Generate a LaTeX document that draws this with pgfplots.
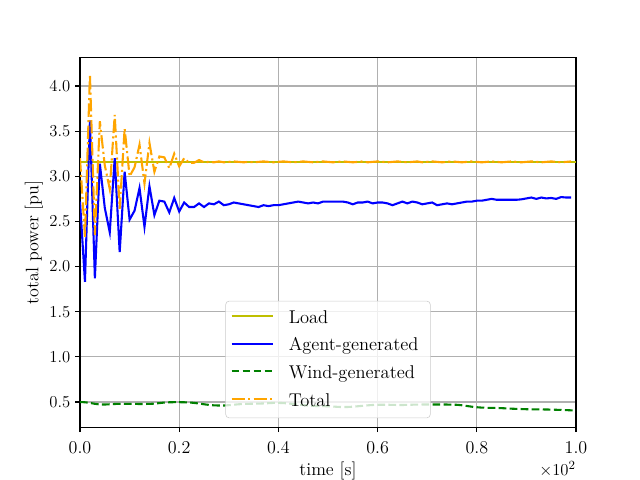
\documentclass[border=0pt]{standalone}
\usepackage{pgfplots}
\pgfplotsset{compat=1.18}
\usepackage{pgfplotstable}

\definecolor{mplY}{rgb}{0.75,0.75,0}
\definecolor{mplG}{rgb}{0,0.5,0}
\definecolor{mplOrange}{HTML}{FFA500}
\definecolor{gridgray}{HTML}{B0B0B0}
\definecolor{legedge}{rgb}{0.8,0.8,0.8}

\pgfplotstableread{
t v
0 2.72
1 1.83
2 3.62
3 1.87
4 3.14
5 2.65
6 2.38
7 3.20
8 2.16
9 3.05
10 2.52
11 2.62
12 2.87
13 2.44
14 2.89
15 2.57
16 2.73
17 2.72
18 2.60
19 2.76
20 2.61
21 2.71
22 2.66
23 2.66
24 2.70
25 2.66
26 2.70
27 2.69
28 2.72
29 2.68
30 2.69
31 2.71
32 2.70
33 2.69
34 2.68
35 2.67
36 2.66
37 2.68
38 2.67
39 2.68
40 2.68
41 2.69
42 2.70
43 2.71
44 2.72
45 2.71
46 2.70
47 2.71
48 2.70
49 2.72
50 2.72
51 2.72
52 2.72
53 2.72
54 2.71
55 2.69
56 2.71
57 2.71
58 2.72
59 2.70
60 2.71
61 2.71
62 2.70
63 2.68
64 2.70
65 2.72
66 2.70
67 2.72
68 2.71
69 2.69
70 2.70
71 2.71
72 2.68
73 2.69
74 2.70
75 2.69
76 2.70
77 2.71
78 2.72
79 2.72
80 2.73
81 2.73
82 2.74
83 2.75
84 2.74
85 2.74
86 2.74
87 2.74
88 2.74
89 2.745
90 2.755
91 2.765
92 2.75
93 2.765
94 2.755
95 2.76
96 2.75
97 2.77
98 2.765
99 2.765
}\agent

\pgfplotstableread{
t v
0 0.500
1 0.497
2 0.490
3 0.480
4 0.473
5 0.472
6 0.475
7 0.478
8 0.480
9 0.480
10 0.480
11 0.479
12 0.478
13 0.478
14 0.479
15 0.482
16 0.488
17 0.494
18 0.497
19 0.498
20 0.498
21 0.497
22 0.495
23 0.490
24 0.483
25 0.475
26 0.468
27 0.463
28 0.461
29 0.461
30 0.465
31 0.470
32 0.475
33 0.478
34 0.480
35 0.481
36 0.482
37 0.484
38 0.487
39 0.490
40 0.490
41 0.488
42 0.484
43 0.478
44 0.472
45 0.466
46 0.461
47 0.457
48 0.455
49 0.454
50 0.453
51 0.450
52 0.446
53 0.444
54 0.445
55 0.448
56 0.453
57 0.458
58 0.463
59 0.467
60 0.469
61 0.470
62 0.470
63 0.468
64 0.467
65 0.467
66 0.468
67 0.470
68 0.471
69 0.472
70 0.472
71 0.472
72 0.472
73 0.472
74 0.472
75 0.471
76 0.469
77 0.464
78 0.456
79 0.448
80 0.442
81 0.438
82 0.436
83 0.435
84 0.434
85 0.432
86 0.429
87 0.426
88 0.424
89 0.422
90 0.420
91 0.419
92 0.418
93 0.418
94 0.417
95 0.416
96 0.414
97 0.412
98 0.410
99 0.408
100 0.407
}\wind

\pgfplotstableread{
t v
0 3.20
1 2.33
2 4.13
3 2.35
4 3.61
5 3.12
6 2.86
7 3.68
8 2.64
9 3.53
10 3.00
11 3.10
12 3.35
13 2.92
14 3.37
15 3.05
16 3.22
17 3.21
18 3.09
19 3.25
20 3.11
21 3.20
22 3.15
23 3.15
24 3.18
25 3.155
26 3.16
27 3.155
28 3.165
29 3.155
30 3.16
31 3.165
32 3.16
33 3.155
34 3.16
35 3.155
36 3.16
37 3.165
38 3.16
39 3.155
40 3.16
41 3.165
42 3.16
43 3.155
44 3.16
45 3.165
46 3.16
47 3.155
48 3.16
49 3.165
50 3.16
51 3.155
52 3.16
53 3.165
54 3.16
55 3.155
56 3.16
57 3.165
58 3.155
59 3.16
60 3.165
61 3.16
62 3.155
63 3.16
64 3.165
65 3.16
66 3.155
67 3.16
68 3.165
69 3.155
70 3.16
71 3.165
72 3.16
73 3.155
74 3.16
75 3.165
76 3.16
77 3.155
78 3.16
79 3.165
80 3.16
81 3.155
82 3.16
83 3.165
84 3.16
85 3.155
86 3.16
87 3.165
88 3.16
89 3.155
90 3.16
91 3.165
92 3.16
93 3.155
94 3.16
95 3.165
96 3.16
97 3.155
98 3.16
99 3.165
}\total

\begin{document}
\begin{tikzpicture}
\path[use as bounding box] (-57.6pt,-38.02pt) rectangle (403.2pt,307.58pt);
\begin{axis}[
  scale only axis,
  clip mode=individual,
  width=357.12pt, height=266.11pt,
  xmin=0, xmax=100, ymin=0.221, ymax=4.315,
  xtick={0,20,40,60,80,100},
  xticklabels={0.0,0.2,0.4,0.6,0.8,1.0},
  ytick={0.5,1.0,1.5,2.0,2.5,3.0,3.5,4.0},
  yticklabel style={/pgf/number format/.cd, fixed, fixed zerofill, precision=1},
  xticklabel style={yshift=-3.2pt},
  scaled ticks=false,
  grid=major,
  grid style={gridgray, line width=0.8pt},
  axis line style={line width=0.8pt},
  tick align=outside,
  major tick length=3.5pt,
  tick style={black, line width=0.8pt},
  xtick pos=lower, ytick pos=left,
  ticklabel style={font=\fontsize{13}{15}\selectfont},
  label style={font=\fontsize{13}{15}\selectfont},
  xlabel={time [s]},
  ylabel={total power [pu]},
  xlabel style={at={(axis description cs:0.5,0)}, anchor=base, yshift=-35pt},
  ylabel style={at={(axis description cs:-0.084,0.5)}, anchor=base, rotate=0},
  legend style={at={(0.5,0)}, anchor=south, yshift=6.5pt,
    draw=legedge, fill=white, fill opacity=0.8, draw opacity=1, text opacity=1,
    rounded corners=2.5pt, font=\fontsize{13.3}{15}\selectfont,
    inner xsep=3.5pt, inner ysep=5pt,
    nodes={inner sep=0pt, text height=11pt, text depth=3.4pt, text width=98.4pt, align=left},
    row sep=5.5pt, column sep=10.4pt},
  legend cell align=left,
  legend image code/.code={\draw[#1] (0pt,1.5pt) -- (30pt,1.5pt);},
]
\addplot[mplY, line width=1.5pt] coordinates {(0,3.158) (100,3.158)};
\addlegendentry{Load}
\addplot[blue, line width=1.5pt] table[x=t, y=v] {\agent};
\addlegendentry{Agent-generated}
\addplot[mplG, line width=1.5pt, dash pattern=on 5.55pt off 2.4pt] table[x=t, y=v] {\wind};
\addlegendentry{Wind-generated}
\addplot[mplOrange, line width=1.5pt, dash pattern=on 9.6pt off 2.4pt on 1.5pt off 2.4pt] table[x=t, y=v] {\total};
\addlegendentry{Total}
\node[anchor=base east, font=\fontsize{13}{15}\selectfont, inner sep=0pt] at ([yshift=-35pt]rel axis cs:1,0) {$\times10^{2}$};
\end{axis}
\end{tikzpicture}
\end{document}
